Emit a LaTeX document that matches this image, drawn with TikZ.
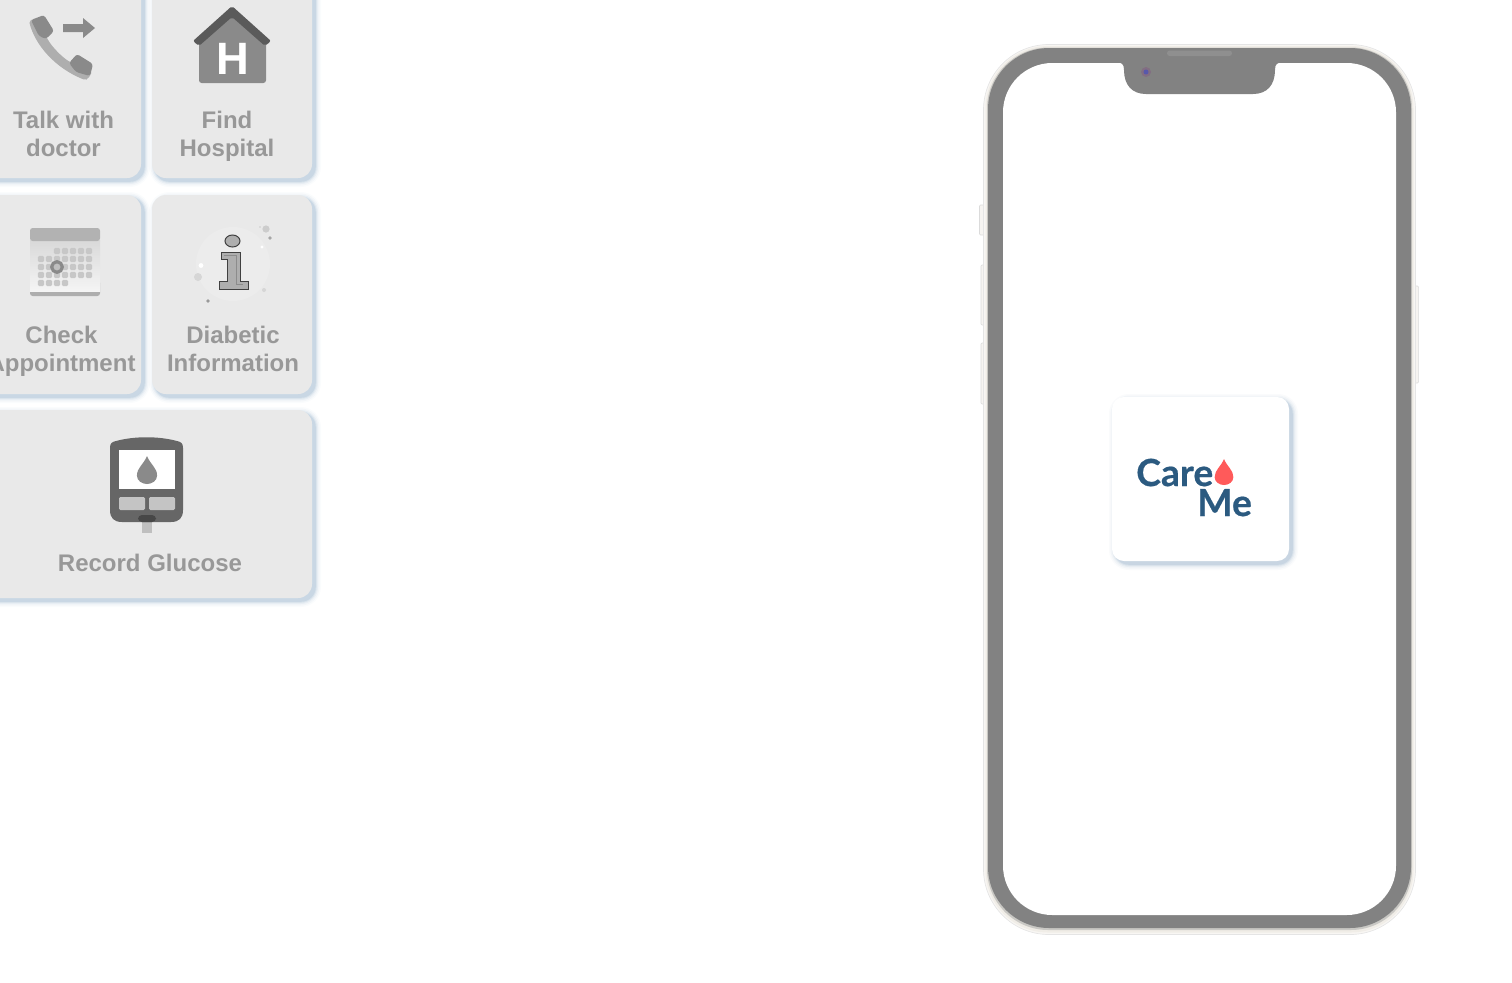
\documentclass[tikz,border=0pt]{standalone}
\usepackage{fontspec}
\setmainfont{Liberation Sans}
\newfontfamily\logofont{Lato}[BoldFeatures={FakeBold=0.5}]
\usetikzlibrary{positioning,calc}
\definecolor{cdCard}{RGB}{233,233,233}
\definecolor{cdShade}{RGB}{105,145,180}
\definecolor{cdText}{RGB}{152,152,152}
\definecolor{cdIcon}{RGB}{138,138,138}
\definecolor{cdLight}{RGB}{174,174,174}
\definecolor{cdDark}{RGB}{90,90,90}
\definecolor{cdMeter}{RGB}{102,102,102}
\definecolor{cdFrame}{RGB}{130,130,130}
\definecolor{cdBezel}{RGB}{240,237,231}
\definecolor{cdLogo}{RGB}{43,90,128}
\definecolor{cdDrop}{RGB}{255,90,90}
\tikzset{
    base/.style={font=\fontsize{18}{21}\selectfont\bfseries, align=center, text=cdText, inner sep=0pt},
    card/.style={fill=cdCard, rounded corners=10.5pt},
    logotext/.style={font=\fontsize{28}{28}\selectfont\logofont\bfseries, text=cdLogo, inner sep=0pt},
    caldot/.style={fill=black!22, rounded corners=1.2pt},
    sidekey/.style={fill=cdBezel!60!white, draw=black!14, line width=0.4pt, rounded corners=0.8pt}
}
\newcommand{\softshade}[4]{%
  \foreach \g/\o in {6/.03,4.5/.05,3/.08,1.8/.11,0.8/.15}
    \fill[cdShade, opacity=\o, rounded corners=10.5pt+\g*0.75pt]
      ({#1-\g+3},{#2-\g+3}) rectangle ({#3+\g+3},{#4+\g+3});
}
\newcommand{\waterdrop}[4]{%
  \fill[#4] (#1,#2) .. controls ({#1+0.12*#3},{#2+0.3*#3}) and ({#1+0.36*#3},{#2+0.42*#3}) .. ({#1+0.36*#3},{#2+0.7*#3})
    .. controls ({#1+0.36*#3},{#2+0.88*#3}) and ({#1+0.18*#3},{#2+#3}) .. (#1,{#2+#3})
    .. controls ({#1-0.18*#3},{#2+#3}) and ({#1-0.36*#3},{#2+0.88*#3}) .. ({#1-0.36*#3},{#2+0.7*#3})
    .. controls ({#1-0.36*#3},{#2+0.42*#3}) and ({#1-0.12*#3},{#2+0.3*#3}) .. (#1,#2) -- cycle;
}
\begin{document}
\begin{tikzpicture}[x=0.75pt,y=-0.75pt]
  \useasboundingbox (0,0) rectangle (1512,982);
  \clip (0,0) rectangle (1512,982);

  % menu cards
  \softshade{-30}{-30}{141}{178}
  \softshade{152}{-30}{312}{178}
  \softshade{-30}{195}{141}{394}
  \softshade{152}{195}{312}{394}
  \softshade{-30}{410}{312}{598}
  \fill[card] (-30,-30) rectangle (141,178);
  \fill[card] (152,-30) rectangle (312,178);
  \fill[card] (-30,195) rectangle (141,394);
  \fill[card] (152,195) rectangle (312,394);
  \fill[card] (-30,410) rectangle (312,598);

  \node[base] (talk) at (63.5,134) {Talk with\\doctor};
  \node[base] (hospital) at (227,136) {Find\\Hospital};
  \node[base] (check) at (61.5,351) {Check\\Appointment};
  \node[base] (diabetic) at (233,349) {Diabetic\\Information};
  \node[base] (record) at (150,563) {Record Glucose};

  % talk icon
  \fill[cdLight, rounded corners=1.5pt] (29,21) .. controls (35,45) and (55,68) .. (85,80) -- (88,79) -- (92,72) -- (70,62)
    .. controls (62,57) and (52,47) .. (47,38) -- (36,18) -- cycle;
  \fill[cdIcon, rounded corners=2pt] (31,20) -- (44,15) -- (54,31) -- (46,39) -- (39,36) -- cycle;
  \fill[cdIcon, rounded corners=2pt] (69,63) -- (77,54) -- (93,64) -- (90,76) -- (76,72) -- cycle;
  \fill[cdIcon] (63,24) -- (83,24) -- (83,18) -- (95,28) -- (83,38) -- (83,32) -- (63,32) -- cycle;

  % hospital icon
  \fill[cdIcon, rounded corners=2pt] (199,40) -- (232,14) -- (266,40) -- (266,83) -- (199,83) -- cycle;
  \fill[cdDark, rounded corners=1.5pt] (232,6) -- (271,41) -- (265,46) -- (232,17) -- (199,46) -- (193,41) -- cycle;
  \node[font=\fontsize{34}{34}\selectfont\bfseries, text=white, inner sep=0pt] (hletter) at (232.5,59) {H};

  % calendar icon
  \fill[cdLight, rounded corners=2pt] (30,280) rectangle (100,296);
  \shade[top color=black!15, bottom color=black!4] (30,240) rectangle (100,291);
  \fill[black!30, rounded corners=2pt] (30,228) rectangle (100,241);
  \foreach \x in {57,65,73,81,89}
    \fill[caldot] (\x-3.2,247.8) rectangle (\x+3.2,254.2);
  \foreach \y in {259,267,275}
    \foreach \x in {41,49,57,65,73,81,89}
      \fill[caldot] (\x-3.2,\y-3.2) rectangle (\x+3.2,\y+3.2);
  \foreach \x in {41,49,57,65}
    \fill[caldot] (\x-3.2,279.8) rectangle (\x+3.2,286.2);
  \draw[cdIcon, line width=2.4pt, fill=black!25] (57,267) circle (5.3);

  % information icon
  \fill[black!7.5] (233,264) circle (37);
  \fill[black!20] (266,229) circle (3.6);
  \fill[black!35] (270,238) circle (1.9);
  \fill[black!20] (260,227) circle (0.9);
  \fill[white] (262,247) circle (1.6);
  \fill[white] (201,265.5) circle (2.4);
  \fill[black!16] (198,277) circle (4);
  \fill[black!16] (264,290) circle (2);
  \fill[black!40] (208,301) circle (1.9);
  \draw[black!75, line width=0.75pt, fill=cdLight] (232.5,241) ellipse (7.5 and 6);
  \draw[black!75, line width=0.75pt, fill=cdLight] (221,252) -- (240,252) -- (240,281) -- (248,281) -- (248,289) -- (219,289) -- (219,281) -- (227,281) -- (227,259) -- (221,259) -- cycle;
  \draw[black!45, line width=0.4pt] (224,255) -- (236,255) -- (236,284) -- (243,284);

  % glucose meter icon
  \fill[black!25] (142,515) rectangle (152,533);
  \fill[cdMeter] (110,448) .. controls (110,443) and (112,442) .. (116,441) .. controls (135,436) and (158,436) .. (177,441)
    .. controls (181,442) and (183,443) .. (183,448) -- (183,510) .. controls (183,518) and (179,522) .. (171,522)
    -- (122,522) .. controls (114,522) and (110,518) .. (110,510) -- cycle;
  \fill[white] (119,450) rectangle (175,489);
  \waterdrop{147}{456}{28}{cdIcon}
  \fill[black!23, rounded corners=1pt] (119,497) rectangle (145,510);
  \fill[black!23, rounded corners=1pt] (149,497) rectangle (175,510);
  \fill[black!72, rounded corners=3pt] (138,522) -- (138,515) -- (156,515) -- (156,522) -- cycle;

  % phone
  \fill[sidekey] (979.5,205) rectangle (985,235);
  \foreach \a/\b in {265/325,343/404}
    \fill[sidekey] (981,\a) rectangle (985,\b);
  \fill[sidekey] (1414,286) rectangle (1418.5,383);
  \draw[black!10, line width=0.5pt, fill=cdBezel!50!white, rounded corners=49pt] (983.5,44.5) rectangle (1415.5,934.5);
  \fill[cdBezel, rounded corners=47pt] (985.5,46) rectangle (1413.5,932.5);
  \fill[cdFrame!35!cdBezel, rounded corners=46pt] (987,47.5) rectangle (1412,930);
  \fill[cdFrame, rounded corners=46pt] (988,48) rectangle (1411,928);
  \fill[white, rounded corners=37pt] (1003,63) rectangle (1396,915);
  \fill[cdFrame] (1117,62) .. controls (1122,63) and (1124,64) .. (1124,70) .. controls (1124,85) and (1132,94) .. (1146,94) -- (1253,94)
    .. controls (1267,94) and (1275,85) .. (1275,70) .. controls (1275,64) and (1277,63) .. (1282,62) -- cycle;
  \fill[black!44, rounded corners=2pt] (1167,50.5) rectangle (1232,56);
  \fill[cdFrame!85!violet] (1146,72) circle (5);
  \fill[cdFrame!60!blue!80!gray] (1146,72) circle (2.5);

  % logo tile
  \softshade{1112}{397}{1289}{561}
  \fill[white, rounded corners=9pt] (1112,397) rectangle (1289,561);
  \node[logotext, anchor=base west] (logocare) at (1136,486) {Care};
  \node[logotext, anchor=base west] (logome) at (1197,516) {Me};
  \waterdrop{1224}{459}{26}{cdDrop}
\end{tikzpicture}
\end{document}
